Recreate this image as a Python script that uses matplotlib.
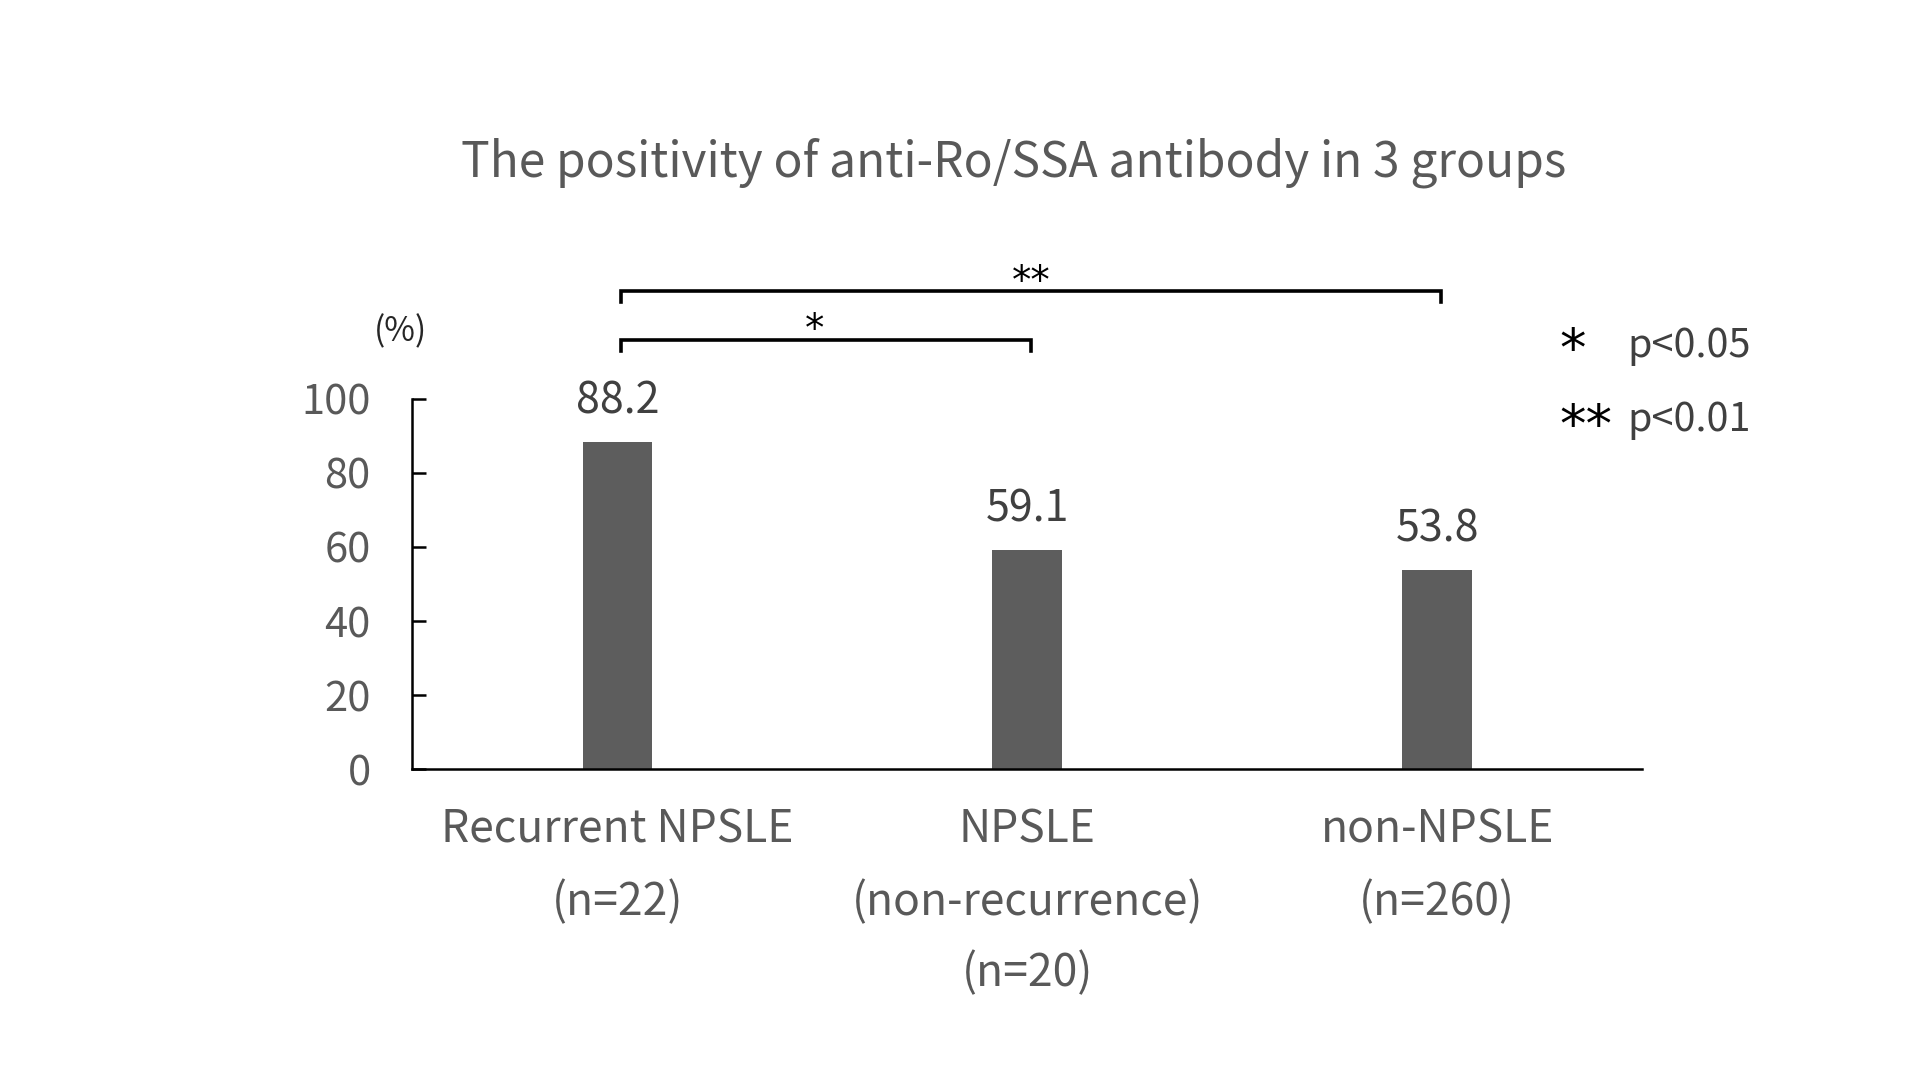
import matplotlib.pyplot as plt

plt.rcParams['font.family'] = ['Noto Sans CJK JP', 'DejaVu Sans']

# data
groups = ['Recurrent NPSLE\n(n=22)', 'NPSLE\n(non-recurrence)\n(n=20)', 'non-NPSLE\n(n=260)']
positivity = [88.2, 59.1, 53.8]
value_labels = ['88.2', '59.1', '53.8']
yticks = [0, 20, 40, 60, 80, 100]

W, H = 1569, 883  # layout measured on the reference, scaled to the figure

fig = plt.figure(figsize=(19.2, 10.8), dpi=100)
ax = fig.add_axes([337 / W, 1 - 629 / H, (1342 - 337) / W, (629 - 326) / H])

x = [0.5, 1.5, 2.5]
ax.bar(x, positivity, width=0.17, color='#5d5d5d', zorder=2)

for xi, v, lab in zip(x, positivity, value_labels):
    ax.text(xi, v + 5, lab, ha='center', va='bottom', fontsize=31, color='#404040')

ax.set_xlim(0, 3)
ax.set_ylim(0, 100)
ax.set_yticks(yticks)
ax.set_yticklabels([str(t) for t in yticks], fontsize=30, color='#595959')
ax.set_xticks(x)
ax.set_xticklabels(groups, fontsize=32, color='#595959', linespacing=1.72, va='top')
ax.tick_params(axis='x', length=0, pad=27)
ax.tick_params(axis='y', direction='in', length=10, width=1.8, pad=30)

for s in ['top', 'right']:
    ax.spines[s].set_visible(False)
for s in ['left', 'bottom']:
    ax.spines[s].set_linewidth(1.8)

# significance brackets
def bracket(x0, x1, y, drop, label, lx, ly):
    ax.plot([x0, x0, x1, x1], [y - drop, y, y, y - drop], color='black', lw=2.6,
            clip_on=False, solid_joinstyle='miter')
    ax.text(lx, ly, label, ha='center', va='center', fontsize=28, color='black',
            family='DejaVu Sans')

bracket(0.51, 1.51, 115.8, 2.8, '*', 0.98, 118.6)
bracket(0.51, 2.51, 129.0, 2.8, '**', 1.51, 131.6)

ax.text(-0.03, 118.0, '(%)', ha='center', va='center', fontsize=24, color='#262626')

fig.text(828 / W, 1 - 133 / H, 'The positivity of anti-Ro/SSA antibody in 3 groups',
         ha='center', va='center', fontsize=34.5, color='#595959')

fig.text(1285 / W, 1 - 287 / H, '*', ha='center', va='center', fontsize=38, color='black',
         family='DejaVu Sans')
fig.text(1330 / W, 1 - 283 / H, 'p<0.05', ha='left', va='center', fontsize=28.5, color='#404040')
fig.text(1296 / W, 1 - 349 / H, '**', ha='center', va='center', fontsize=38, color='black',
         family='DejaVu Sans')
fig.text(1330 / W, 1 - 343 / H, 'p<0.01', ha='left', va='center', fontsize=28.5, color='#404040')

fig.savefig('out.png', dpi=100, facecolor='white')
